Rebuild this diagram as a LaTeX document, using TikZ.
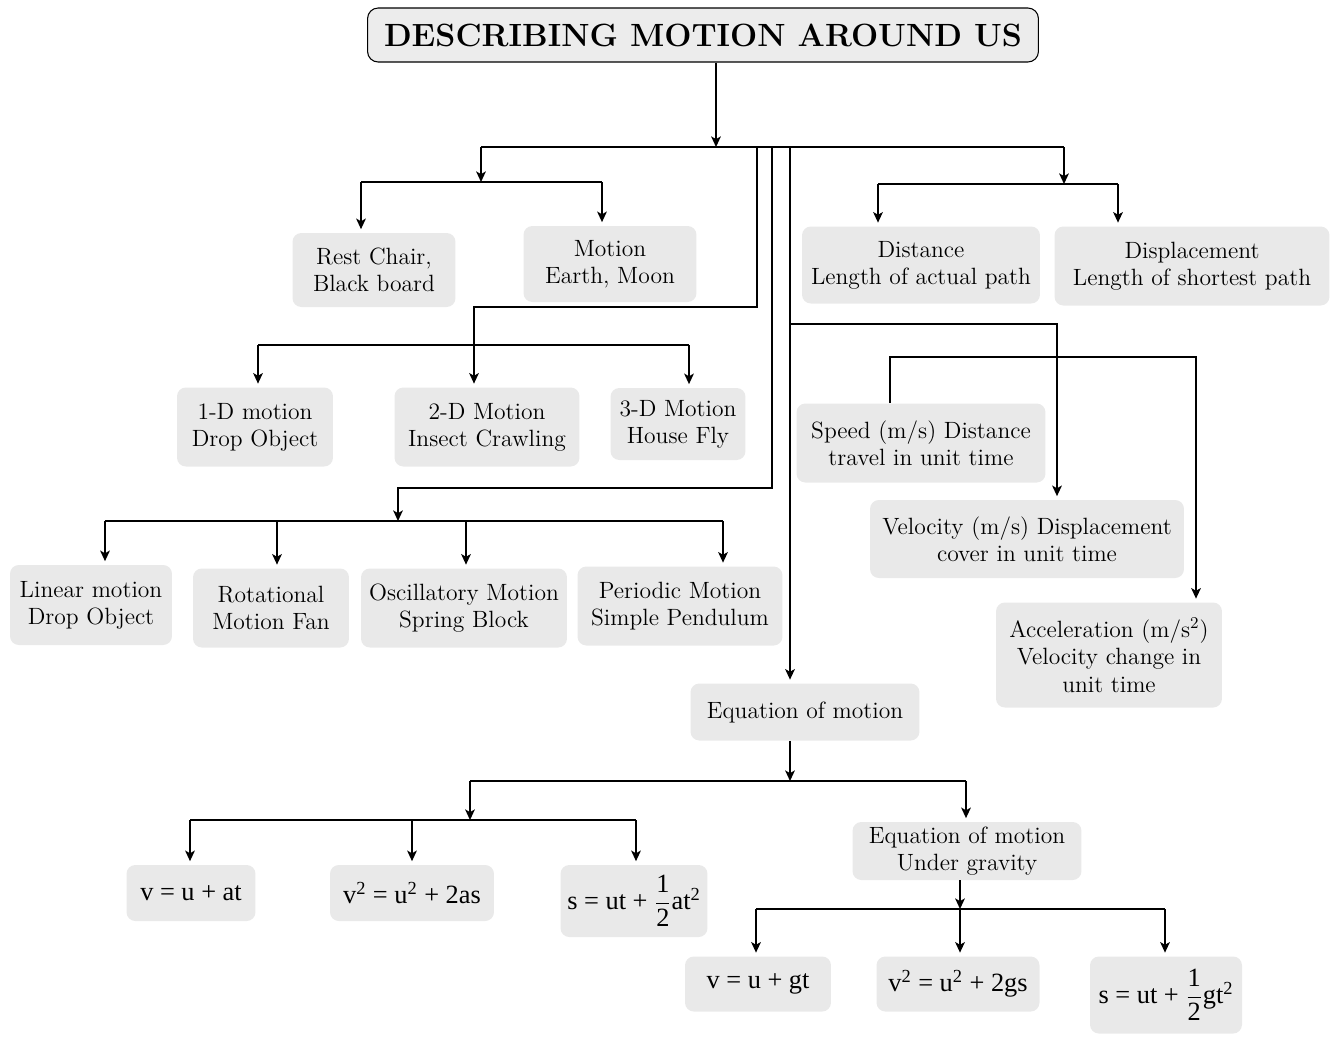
\documentclass[tikz,border=0pt]{standalone}
\usepackage{amsmath, amssymb}
\usepackage{xcolor}
\usepackage{fontspec}
\newfontfamily\eqfont{Liberation Serif}
\usepackage{tikz}
\usetikzlibrary{arrows.meta}

\definecolor{boxgray}{RGB}{233,233,233}
\definecolor{headgray}{RGB}{236,236,236}

\tikzset{
    box/.style={fill=boxgray, rounded corners=5pt, align=center, inner sep=1pt,
        font=\fontsize{13.4}{15.5}\selectfont},
    eqbox/.style={box, font=\fontsize{15}{17}\selectfont\eqfont},
    headbox/.style={draw, fill=headgray, rounded corners=6pt, line width=0.6pt,
        minimum width=13.42cm, minimum height=1.08cm,
        font=\fontsize{18.3}{22}\selectfont\bfseries},
    boxsize/.style 2 args={minimum width=#1cm, minimum height=#2cm},
    link/.style={line width=1pt},
    arr/.style={link, -{Stealth[length=6pt,width=5.5pt,inset=1.5pt]}},
    arrbox/.style={arr, shorten >=2pt}
}

\begin{document}
\begin{tikzpicture}[x=0.02cm, y=-0.02cm]
    \useasboundingbox (0,0) rectangle (1331,1036);

    \node[headbox] (title) at (703,35) {DESCRIBING MOTION AROUND US};

    \node[box, boxsize={3.26}{1.48}] (rest) at (374,270) {Rest Chair,\\Black board};
    \node[box, boxsize={3.46}{1.52}] (motion) at (610,264) {Motion\\Earth, Moon};
    \node[box, boxsize={4.76}{1.54}] (distance) at (921,265) {Distance\\Length of actual path};
    \node[box, boxsize={5.5}{1.58}] (displacement) at (1192,266) {Displacement\\Length of shortest path};

    \node[box, boxsize={3.12}{1.58}] (oned) at (255,427) {1-D motion\\Drop Object};
    \node[box, boxsize={3.7}{1.58}] (twod) at (487,427) {2-D Motion\\Insect Crawling};
    \node[box, boxsize={2.7}{1.44}] (threed) at (678,424) {3-D Motion\\House Fly};

    \node[box, boxsize={4.98}{1.58}] (speed) at (921,443) {Speed (m/s) Distance\\travel in unit time};
    \node[box, boxsize={6.28}{1.56}] (velocity) at (1027,539) {Velocity (m/s) Displacement\\cover in unit time};
    \node[box, boxsize={4.52}{2.1}] (accel) at (1109,655) {Acceleration (m/s\textsuperscript{2})\\Velocity change in\\unit time};

    \node[box, boxsize={3.24}{1.6}] (linear) at (91,605) {Linear motion\\Drop Object};
    \node[box, boxsize={3.12}{1.58}] (rotational) at (271,608) {Rotational\\Motion Fan};
    \node[box, boxsize={4.12}{1.58}] (oscillatory) at (464,608) {Oscillatory Motion\\Spring Block};
    \node[box, boxsize={4.1}{1.58}] (periodic) at (680,606) {Periodic Motion\\Simple Pendulum};

    \node[box, boxsize={4.58}{1.14}] (eqm) at (805,712) {Equation of motion};
    \node[eqbox, boxsize={2.58}{1.12}] (eqa) at (191,893) {v = u + at};
    \node[eqbox, boxsize={3.28}{1.12}] (eqb) at (412,893) {v\textsuperscript{2} = u\textsuperscript{2} + 2as};
    \node[eqbox, boxsize={2.94}{1.44}] (eqc) at (634,901) {s = ut + $\dfrac{\text{1}}{\text{2}}$at\textsuperscript{2}};
    \node[box, boxsize={4.58}{1.16}] (eqg) at (967,851) {Equation of motion\\Under gravity};
    \node[eqbox, boxsize={2.92}{1.1}] (ga) at (758,984) {v = u + gt};
    \node[eqbox, boxsize={3.26}{1.1}] (gb) at (958,984) {v\textsuperscript{2} = u\textsuperscript{2} + 2gs};
    \node[eqbox, boxsize={3.04}{1.54}] (gc) at (1166,995) {s = ut + $\dfrac{\text{1}}{\text{2}}$gt\textsuperscript{2}};

    \coordinate (hub) at (716,147);
    \coordinate (jL) at (481,147);
    \coordinate (jR) at (1064,147);
    \coordinate (jA) at (757,147);
    \coordinate (jB) at (772,147);
    \coordinate (jC) at (790,147);

    \coordinate (rmM) at (481,182);
    \coordinate (rmL) at (361,182);
    \coordinate (rmR) at (602,182);
    \coordinate (ddM) at (1064,184);
    \coordinate (ddL) at (878,184);
    \coordinate (ddR) at (1118,184);

    \coordinate (aT) at (474,307);
    \coordinate (dL) at (258,345);
    \coordinate (dR) at (689,345);

    \coordinate (tT) at (398,488);
    \coordinate (tM) at (398,521);
    \coordinate (tA) at (105,521);
    \coordinate (tB) at (277,521);
    \coordinate (tC) at (466,521);
    \coordinate (tD) at (723,521);

    \coordinate (cV) at (790,324);
    \coordinate (vT) at (1057,324);
    \coordinate (sT) at (890,357);
    \coordinate (aR) at (1196,357);

    \coordinate (eM) at (790,781);
    \coordinate (eL) at (470,781);
    \coordinate (eR) at (966,781);
    \coordinate (eN) at (470,820);
    \coordinate (eA) at (190,820);
    \coordinate (eB) at (412,820);
    \coordinate (eC) at (636,820);

    \coordinate (gM) at (960,909);
    \coordinate (gA) at (756,909);
    \coordinate (gC) at (1165,909);

    \draw[arr] (title.south -| hub) -- (hub);
    \draw[link] (jL) -- (jR);

    \draw[arr] (jL) -- (rmM);
    \draw[link] (rmL) -- (rmR);
    \draw[arrbox] (rmL) -- (rmL |- rest.north);
    \draw[arrbox] (rmR) -- (rmR |- motion.north);

    \draw[arr] (jR) -- (ddM);
    \draw[link] (ddL) -- (ddR);
    \draw[arrbox] (ddL) -- (ddL |- distance.north);
    \draw[arrbox] (ddR) -- (ddR |- displacement.north);

    \draw[arrbox] (jA) |- (aT) -- (aT |- twod.north);
    \draw[link] (dL) -- (dR);
    \draw[arrbox] (dL) -- (dL |- oned.north);
    \draw[arrbox] (dR) -- (dR |- threed.north);

    \draw[arr] (jB) |- (tT) -- (tM);
    \draw[link] (tA) -- (tD);
    \draw[arrbox] (tA) -- (tA |- linear.north);
    \draw[arrbox] (tB) -- (tB |- rotational.north);
    \draw[arrbox] (tC) -- (tC |- oscillatory.north);
    \draw[arrbox] (tD) -- (tD |- periodic.north);

    \draw[arrbox] (jC) -- (jC |- eqm.north);
    \draw[arrbox] (cV) -- (vT) -- (vT |- velocity.north);
    \draw[arrbox] (speed.north -| sT) -- (sT) -- (aR) -- (aR |- accel.north);

    \draw[arr] (eqm.south -| eM) -- (eM);
    \draw[link] (eL) -- (eR);
    \draw[arr] (eL) -- (eN);
    \draw[link] (eA) -- (eC);
    \draw[arrbox] (eA) -- (eA |- eqa.north);
    \draw[arrbox] (eB) -- (eB |- eqb.north);
    \draw[arrbox] (eC) -- (eC |- eqc.north);
    \draw[arrbox] (eR) -- (eR |- eqg.north);

    \draw[arr] (eqg.south -| gM) -- (gM);
    \draw[link] (gA) -- (gC);
    \draw[arrbox] (gA) -- (gA |- ga.north);
    \draw[arrbox] (gM) -- (gM |- gb.north);
    \draw[arrbox] (gC) -- (gC |- gc.north);
\end{tikzpicture}
\end{document}
